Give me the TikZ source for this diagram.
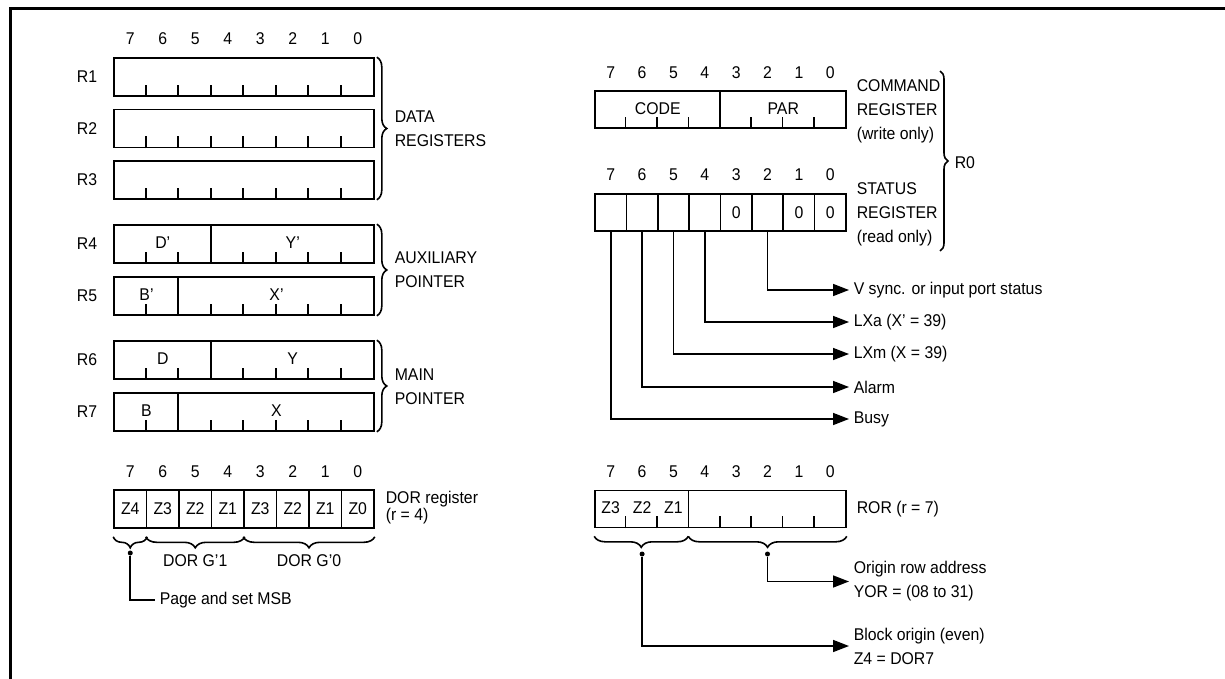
\documentclass[tikz,border=0pt]{standalone}
\usepackage{fontspec}
\setmainfont{Liberation Sans}[FakeStretch=0.93]
\usetikzlibrary{arrows.meta,decorations.pathreplacing}

\begin{document}
\begin{tikzpicture}[x=0.5pt,y=-0.5pt,
    font=\fontsize{8.5}{12}\selectfont,
    line width=0.8pt,
    reg/.style={draw, minimum width=130pt, minimum height=19pt, inner sep=0pt},
    regr/.style={draw, minimum width=125.5pt, minimum height=18.5pt, inner sep=0pt},
    cell/.style={draw, minimum width=16.25pt, minimum height=19pt, inner sep=0pt},
    cellr/.style={draw, minimum width=15.6875pt, minimum height=18.5pt, inner sep=0pt},
    bitno/.style={inner sep=0pt},
    txt/.style={anchor=west, align=left, inner sep=2pt},
    brc/.style={decorate, decoration={brace, amplitude=5pt}},
    ubrc/.style={decorate, decoration={brace, amplitude=5.5pt, mirror}},
    arr/.style={-{Triangle[length=8pt,width=6pt]}},
    dot/.style={circle, fill, inner sep=0pt, minimum size=2.5pt}]
    \useasboundingbox (0,0) rectangle (1225,679);
    % frame
    \draw[line width=1.5pt] (10,679) -- (10,8.5) -- (1225,8.5);

    % Data registers
    \foreach \b in {7,...,0}
        \node[bitno] (tn\b) at ({130.25+(7-\b)*32.5},39) {\b};
    \node[reg] (r1) at (244,77) {};
    \node[reg] (r2) at (244,128.5) {};
    \node[reg] (r3) at (244,180) {};
    \foreach \r in {r1,r2,r3}
        \foreach \k in {1,...,7}
            \draw ([xshift=\k*16.25pt]\r.south west) -- ++(0,-12);
    \node (r1lbl) at (87,77) {R1};
    \node (r2lbl) at (87,128.5) {R2};
    \node (r3lbl) at (87,180) {R3};
    \draw[brc] ([xshift=1pt]r1.north east) -- ([xshift=1pt]r3.south east);
    \node[txt] (datalbl) at (390,128.5) {DATA\\REGISTERS};

    % Auxiliary pointer
    \node[reg] (r4) at (244,244) {};
    \draw ([xshift=3*16.25pt]r4.south west) -- ([xshift=3*16.25pt]r4.north west);
    \foreach \k in {1,2,4,5,6,7}
        \draw ([xshift=\k*16.25pt]r4.south west) -- ++(0,-12);
    \node (dpr) at (162.75,243) {D’};
    \node (ypr) at (292.75,243) {Y’};
    \node[reg] (r5) at (244,296) {};
    \draw ([xshift=2*16.25pt]r5.south west) -- ([xshift=2*16.25pt]r5.north west);
    \foreach \k in {1,3,4,5,6,7}
        \draw ([xshift=\k*16.25pt]r5.south west) -- ++(0,-12);
    \node (bpr) at (146.5,295) {B’};
    \node (xpr) at (276.5,295) {X’};
    \node (r4lbl) at (87,244) {R4};
    \node (r5lbl) at (87,296) {R5};
    \draw[brc] ([xshift=1pt]r4.north east) -- ([xshift=1pt]r5.south east);
    \node[txt] (auxlbl) at (390,270) {AUXILIARY\\POINTER};

    % Main pointer
    \node[reg] (r6) at (244,360) {};
    \draw ([xshift=3*16.25pt]r6.south west) -- ([xshift=3*16.25pt]r6.north west);
    \foreach \k in {1,2,4,5,6,7}
        \draw ([xshift=\k*16.25pt]r6.south west) -- ++(0,-12);
    \node (dm) at (162.75,359) {D};
    \node (ym) at (292.75,359) {Y};
    \node[reg] (r7) at (244,412) {};
    \draw ([xshift=2*16.25pt]r7.south west) -- ([xshift=2*16.25pt]r7.north west);
    \foreach \k in {1,3,4,5,6,7}
        \draw ([xshift=\k*16.25pt]r7.south west) -- ++(0,-12);
    \node (bm) at (146.5,411) {B};
    \node (xm) at (276.5,411) {X};
    \node (r6lbl) at (87,360) {R6};
    \node (r7lbl) at (87,412) {R7};
    \draw[brc] ([xshift=1pt]r6.north east) -- ([xshift=1pt]r7.south east);
    \node[txt] (mainlbl) at (390,387) {MAIN\\POINTER};

    % DOR register
    \foreach \b in {7,...,0}
        \node[bitno] (dn\b) at ({130.25+(7-\b)*32.5},472) {\b};
    \foreach \b/\z in {7/Z4,6/Z3,5/Z2,4/Z1,3/Z3,2/Z2,1/Z1,0/Z0}
        \node[cell] (dor\b) at ({130.25+(7-\b)*32.5},509) {\z};
    \node[txt] (dorlbl) at (381,507.5) {DOR register\\[-3.5pt](r = 4)};
    \draw[ubrc] ([yshift=-4pt]dor7.south west) -- ([yshift=-4pt]dor7.south east);
    \draw[ubrc] ([yshift=-4pt]dor6.south west) -- ([yshift=-4pt]dor4.south east);
    \draw[ubrc] ([yshift=-4pt]dor3.south west) -- ([yshift=-4pt]dor0.south east);
    \node (dg1) at (195.25,561) {DOR G’1};
    \node (dg0) at (309,561) {DOR G’0};
    \node[dot] (dotp) at (130.25,553) {};
    \node[txt] (pagelbl) at (155,600) {Page and set MSB};
    \draw (dotp) |- (pagelbl.west);

    % Command register
    \foreach \b in {7,...,0}
        \node[bitno] (cn\b) at ({610.7+(7-\b)*31.375},73) {\b};
    \node[regr] (cmd) at (720.5,109.5) {};
    \draw ([xshift=4*15.6875pt]cmd.south west) -- ([xshift=4*15.6875pt]cmd.north west);
    \foreach \k in {1,2,3,5,6,7}
        \draw ([xshift=\k*15.6875pt]cmd.south west) -- ++(0,-12);
    \node (code) at (657.75,108.5) {CODE};
    \node (par) at (783.25,108.5) {PAR};
    \node[txt] (cmdlbl) at (852,111) {COMMAND\\REGISTER\\(write only)};

    % Status register
    \foreach \b in {7,...,0}
        \node[bitno] (sn\b) at ({610.7+(7-\b)*31.375},175) {\b};
    \foreach \b/\v in {7/{},6/{},5/{},4/{},3/0,2/{},1/0,0/0}
        \node[cellr] (st\b) at ({610.7+(7-\b)*31.375},212.5) {\v};
    \node[txt] (stslbl) at (852,214) {STATUS\\REGISTER\\(read only)};
    \coordinate (r0top) at (940,71);
    \coordinate (r0bot) at (940,251);
    \draw[brc, decoration={amplitude=4pt}] (r0top) -- (r0bot);
    \node[txt] (r0) at (950,163) {R0};

    % Status bits
    \node[txt] (vsync) at (849,290) {V sync. or input port status};
    \node[txt] (lxa) at (849,322) {LXa (X’ = 39)};
    \node[txt] (lxm) at (849,354) {LXm (X = 39)};
    \node[txt] (alarm) at (849,387) {Alarm};
    \node[txt] (busy) at (849,419) {Busy};
    \draw[arr] (st2.south) |- (vsync.west);
    \draw[arr] (st4.south) |- (lxa.west);
    \draw[arr] (st5.south) |- (lxm.west);
    \draw[arr] (st6.south) |- (alarm.west);
    \draw[arr] (st7.south) |- (busy.west);

    % ROR register
    \foreach \b in {7,...,0}
        \node[bitno] (on\b) at ({610.7+(7-\b)*31.375},472) {\b};
    \node[regr] (ror) at (720.5,509) {};
    \draw ([xshift=3*15.6875pt]ror.south west) -- ([xshift=3*15.6875pt]ror.north west);
    \foreach \k in {1,2,4,5,6,7}
        \draw ([xshift=\k*15.6875pt]ror.south west) -- ++(0,-12);
    \node (z3) at (610.7,508) {Z3};
    \node (z2) at (642.1,508) {Z2};
    \node (z1) at (673.4,508) {Z1};
    \node[txt] (rorlbl) at (852,509) {ROR (r = 7)};
    \draw[ubrc] ([yshift=-4pt]ror.south west) -- ([yshift=-4pt, xshift=3*15.6875pt]ror.south west);
    \draw[ubrc] ([yshift=-4pt, xshift=3*15.6875pt]ror.south west) -- ([yshift=-4pt]ror.south east);
    \node[dot] (dotz) at (642.1,554) {};
    \node[dot] (doty) at (767.5,554) {};
    \node[txt] (yor) at (849,581.5) {Origin row address\\YOR = (08 to 31)};
    \node[txt] (blk) at (849,646) {Block origin (even)\\Z4 = DOR7};
    \draw[arr] (doty) |- (yor.west);
    \draw[arr] (dotz) |- (blk.west);
\end{tikzpicture}
\end{document}
